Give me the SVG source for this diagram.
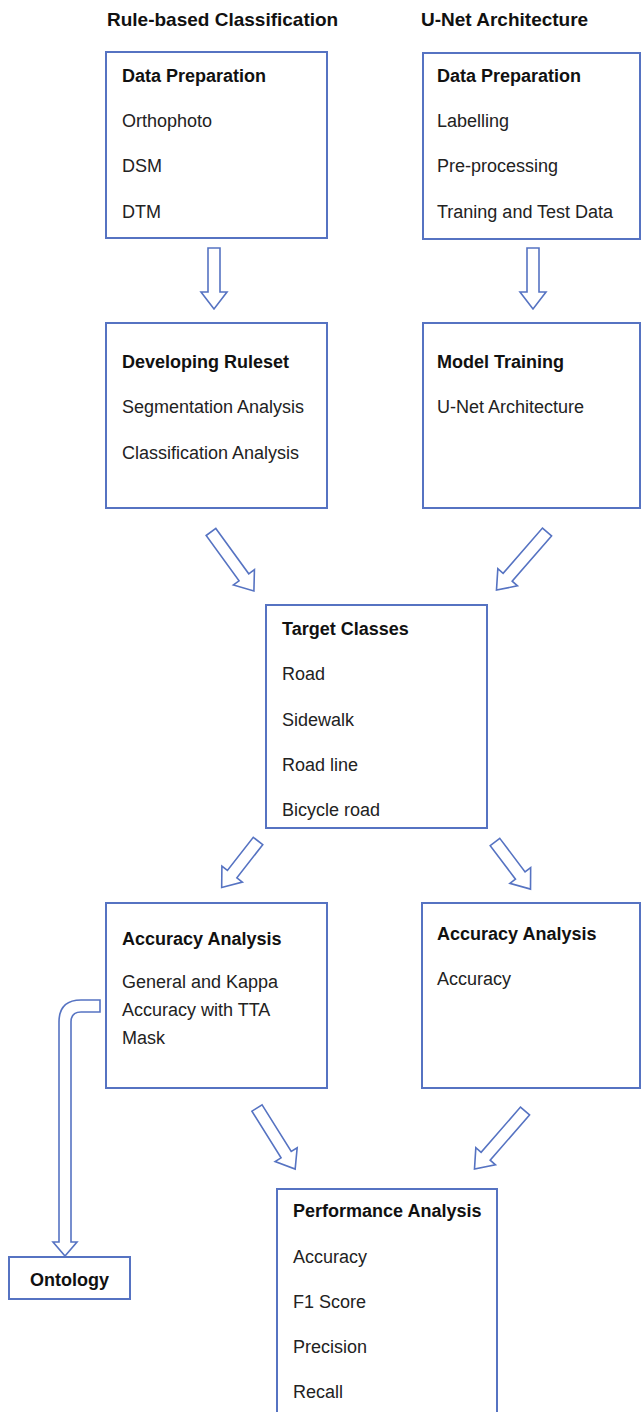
<svg xmlns="http://www.w3.org/2000/svg" width="642" height="1412" viewBox="0 0 642 1412">
  <style>
    .box { fill: #ffffff; stroke: #5673c2; stroke-width: 2; }
    .arrow { fill: #ffffff; stroke: #5673c2; stroke-width: 1.6; stroke-linejoin: miter; }
    text { font-family: "Liberation Sans", Arial, sans-serif; font-size: 18px; fill: #222222; }
    .head { font-weight: bold; fill: #111111; }
    .col { font-weight: bold; font-size: 19px; fill: #111111; }
  </style>

  <rect width="642" height="1412" fill="#ffffff"/>

  <!-- column headings -->
  <text class="col" x="107" y="26">Rule-based Classification</text>
  <text class="col" x="421" y="26">U-Net Architecture</text>

  <!-- connectors: outlined block arrows -->
  <g id="connectors">
    <!-- vertical arrows below the data preparation boxes -->
    <path class="arrow" d="M208,248 L220,248 L220,292 L227,292 L214,309 L201,292 L208,292 Z"/>
    <path class="arrow" d="M527,248 L539,248 L539,292 L546,292 L533,309 L520,292 L527,292 Z"/>
    <!-- diagonal arrows into Target Classes -->
    <path class="arrow" transform="translate(211,532) rotate(54)" d="M0,-6 L56,-6 L56,-13 L73,0 L56,13 L56,6 L0,6 Z"/>
    <path class="arrow" transform="translate(547,532) rotate(131)" d="M0,-6 L60,-6 L60,-13 L77,0 L60,13 L60,6 L0,6 Z"/>
    <!-- diagonal arrows out of Target Classes -->
    <path class="arrow" transform="translate(258,841) rotate(128)" d="M0,-6 L42,-6 L42,-13 L59,0 L42,13 L42,6 L0,6 Z"/>
    <path class="arrow" transform="translate(495,842) rotate(53)" d="M0,-6 L42,-6 L42,-13 L59,0 L42,13 L42,6 L0,6 Z"/>
    <!-- diagonal arrows into Performance Analysis -->
    <path class="arrow" transform="translate(257,1108) rotate(58)" d="M0,-6 L55,-6 L55,-13 L72,0 L55,13 L55,6 L0,6 Z"/>
    <path class="arrow" transform="translate(525,1111) rotate(131)" d="M0,-6 L60,-6 L60,-13 L77,0 L60,13 L60,6 L0,6 Z"/>
    <!-- bent arrow from Accuracy Analysis down to Ontology -->
    <path class="arrow" d="M100,1000 L81,1000 Q59,1000 59,1022 L59,1242 L53,1242 L65,1256 L77,1242 L71,1242 L71,1022 Q71,1012 81,1012 L100,1012 Z"/>
  </g>

  <!-- rule-based column -->
  <g id="rb-data-preparation">
    <rect class="box" x="106" y="52" width="221" height="186"/>
    <text class="head" x="122" y="82">Data Preparation</text>
    <text x="122" y="127">Orthophoto</text>
    <text x="122" y="172">DSM</text>
    <text x="122" y="218">DTM</text>
  </g>

  <g id="rb-developing-ruleset">
    <rect class="box" x="106" y="323" width="221" height="185"/>
    <text class="head" x="122" y="368">Developing Ruleset</text>
    <text x="122" y="413">Segmentation Analysis</text>
    <text x="122" y="459">Classification Analysis</text>
  </g>

  <!-- U-Net column -->
  <g id="unet-data-preparation">
    <rect class="box" x="423" y="53" width="217" height="186"/>
    <text class="head" x="437" y="82">Data Preparation</text>
    <text x="437" y="127">Labelling</text>
    <text x="437" y="172">Pre-processing</text>
    <text x="437" y="218">Traning and Test Data</text>
  </g>

  <g id="unet-model-training">
    <rect class="box" x="423" y="323" width="217" height="185"/>
    <text class="head" x="437" y="368">Model Training</text>
    <text x="437" y="413">U-Net Architecture</text>
  </g>

  <!-- shared target classes -->
  <g id="target-classes">
    <rect class="box" x="266" y="605" width="221" height="223"/>
    <text class="head" x="282" y="635">Target Classes</text>
    <text x="282" y="680">Road</text>
    <text x="282" y="726">Sidewalk</text>
    <text x="282" y="771">Road line</text>
    <text x="282" y="816">Bicycle road</text>
  </g>

  <!-- accuracy analyses -->
  <g id="rb-accuracy-analysis">
    <rect class="box" x="106" y="903" width="221" height="185"/>
    <text class="head" x="122" y="945">Accuracy Analysis</text>
    <text x="122" y="988">General and Kappa</text>
    <text x="122" y="1016">Accuracy with TTA</text>
    <text x="122" y="1044">Mask</text>
  </g>

  <g id="unet-accuracy-analysis">
    <rect class="box" x="422" y="903" width="218" height="185"/>
    <text class="head" x="437" y="940">Accuracy Analysis</text>
    <text x="437" y="985">Accuracy</text>
  </g>

  <g id="ontology">
    <rect class="box" x="9" y="1257" width="121" height="42"/>
    <text class="head" x="69.5" y="1286" text-anchor="middle">Ontology</text>
  </g>

  <g id="performance-analysis">
    <rect class="box" x="277" y="1189" width="220" height="240"/>
    <text class="head" x="293" y="1217">Performance Analysis</text>
    <text x="293" y="1263">Accuracy</text>
    <text x="293" y="1308">F1 Score</text>
    <text x="293" y="1353">Precision</text>
    <text x="293" y="1398">Recall</text>
  </g>
</svg>
